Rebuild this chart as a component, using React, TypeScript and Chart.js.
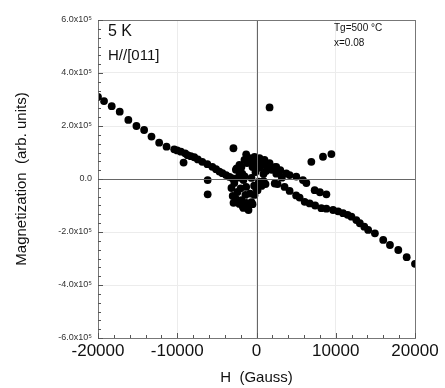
import React, { useEffect, useRef } from "react";
import { Chart, registerables } from "chart.js";

Chart.register(...registerables);

// Field values (Gauss) and magnetization (units of 1e5, arb.)
const upperLeftH = [-20000, -19240, -18270, -17260, -16170, -15150, -14180, -13250, -12280, -11350, -10380, -10000, -9540, -9000, -8700, -8300, -7850, -7400, -6840, -6200, -5570, -5100, -4680, -4300, -3840, -3400, -3000];
const upperLeftM = [3.1, 2.94, 2.75, 2.54, 2.23, 2.0, 1.85, 1.6, 1.37, 1.22, 1.12, 1.08, 1.03, 0.97, 0.9, 0.86, 0.82, 0.74, 0.65, 0.56, 0.46, 0.37, 0.28, 0.22, 0.15, 0.08, 0.02];

const centerH = [-2150, -1520, -890, -250, 380, 1010, 2280, 2910, -2150, -1650, -1300, -630, -130, 380, 880, -2400, -2660, -2150, -1650, -1010, -630, -250, 130, 630, 1140, 2300, -3160, -3000, -1300, -1730, -1100, -40, -2600, 500, 1500,
  -2500, -1900, -1200, -600, 0, 700, 1300, 1900, 2500, -1800, -500, 1200, 3200, -2800, -2000, -1400, -800, -300, 300, -2900, -1900, -1300, -500, 900, 200, -2300, -1500];
const centerM = [0.53, 0.72, 0.79, 0.83, 0.79, 0.72, 0.45, 0.3, 0.15, -0.04, -0.3, 0.04, 0.26, 0.42, 0.19, -0.49, -0.72, -0.94, -1.09, -1.17, -0.87, -0.6, -0.42, -0.26, -0.19, -0.17, -0.34, -0.64, 0.93, -1.04, -1.1, -0.35, 0.35, 0.6, 0.4,
  0.4, 0.45, 0.6, 0.65, 0.6, 0.55, 0.5, 0.35, 0.2, 0.2, 0.45, 0.3, 0.05, -0.15, -0.35, -0.6, -0.55, -0.25, -0.1, -0.9, -0.8, -0.9, -0.95, -0.08, -0.2, 0.05, 0.1];

const upperRightH = [1650, 2490, 3000, 3760, 4180, 5020, 5860, 6290, 7340, 8000, 8820];
const upperRightM = [0.6, 0.46, 0.33, 0.21, 0.15, 0.09, -0.04, -0.15, -0.42, -0.5, -0.58];

const lowerRightH = [2660, 3540, 4180, 5000, 5440, 6080, 6710, 7400, 8180, 8820, 9660, 10300, 10920, 11500, 11980, 12600, 13040, 13600, 14090, 14940, 15990, 16840, 17890, 18950, 20000];
const lowerRightM = [-0.19, -0.3, -0.45, -0.62, -0.7, -0.86, -0.92, -1.0, -1.1, -1.12, -1.17, -1.22, -1.29, -1.35, -1.42, -1.55, -1.67, -1.8, -1.92, -2.05, -2.3, -2.49, -2.68, -2.95, -3.2];

const outlierH = [-9200, -2910, 1650, -6160, -6160, 6920, 8390, 9450];
const outlierM = [0.62, 1.16, 2.7, -0.04, -0.58, 0.65, 0.84, 0.94];

const xTicks = [-20000, -10000, 0, 10000, 20000];
const yTickLabels: Record<string, string> = {
  "6": "6.0x10⁵",
  "4": "4.0x10⁵",
  "2": "2.0x10⁵",
  "0": "0.0",
  "-2": "-2.0x10⁵",
  "-4": "-4.0x10⁵",
  "-6": "-6.0x10⁵",
};
const sampleLabel = ["5 K", "H//[011]"];
const growthLabel = ["Tg=500 °C", "x=0.08"];

const FONT = "'Liberation Sans', Arial, sans-serif";

function toPoints(h: number[], m: number[]) {
  return h.map((x, i) => ({ x, y: m[i] }));
}

const framePlugin = {
  id: "frame",
  afterDraw(chart: any) {
    const { ctx, chartArea } = chart;
    const xs = chart.scales.x;
    const ys = chart.scales.y;
    ctx.save();
    ctx.strokeStyle = "#666";
    ctx.lineWidth = 1;
    const x0 = Math.round(xs.getPixelForValue(0)) + 0.5;
    const y0 = Math.round(ys.getPixelForValue(0)) + 0.5;
    ctx.beginPath();
    ctx.moveTo(x0, chartArea.top);
    ctx.lineTo(x0, chartArea.bottom);
    ctx.moveTo(chartArea.left, y0);
    ctx.lineTo(chartArea.right, y0);
    ctx.stroke();
    ctx.strokeStyle = "#777";
    ctx.strokeRect(
      Math.round(chartArea.left) + 0.5,
      Math.round(chartArea.top) + 0.5,
      Math.round(chartArea.right - chartArea.left),
      Math.round(chartArea.bottom - chartArea.top)
    );
    ctx.strokeStyle = "#555";
    ctx.beginPath();
    for (let v = -20000; v <= 20000; v += 2000) {
      const px = Math.round(xs.getPixelForValue(v)) + 0.5;
      const len = v % 10000 === 0 ? 5 : 3;
      ctx.moveTo(px, chartArea.bottom);
      ctx.lineTo(px, chartArea.bottom - len);
    }
    for (let k = -18; k <= 18; k++) {
      const v = k / 3;
      const py = Math.round(ys.getPixelForValue(v)) + 0.5;
      const len = k % 6 === 0 ? 5 : 3;
      ctx.moveTo(chartArea.left, py);
      ctx.lineTo(chartArea.left + len, py);
    }
    ctx.stroke();
    ctx.fillStyle = "#111";
    ctx.textBaseline = "middle";
    ctx.textAlign = "left";
    ctx.font = `16px ${FONT}`;
    ctx.fillText(sampleLabel[0], chartArea.left + 10, chartArea.top + 12);
    ctx.font = `15px ${FONT}`;
    ctx.fillText(sampleLabel[1], chartArea.left + 10, chartArea.top + 36);
    ctx.font = `10px ${FONT}`;
    ctx.fillText(growthLabel[0], chartArea.left + 236, chartArea.top + 8);
    ctx.fillText(growthLabel[1], chartArea.left + 236, chartArea.top + 23);
    ctx.restore();
  },
};

export default function App() {
  const ref = useRef<HTMLCanvasElement | null>(null);
  useEffect(() => {
    if (!ref.current) return;
    const pointStyle = {
      backgroundColor: "#000",
      borderColor: "#000",
      pointRadius: 3.9,
      pointBorderWidth: 0,
      showLine: false,
    };
    const chart = new Chart(ref.current, {
      type: "scatter",
      data: {
        datasets: [
          { data: toPoints(upperLeftH, upperLeftM), ...pointStyle },
          { data: toPoints(centerH, centerM), ...pointStyle },
          { data: toPoints(upperRightH, upperRightM), ...pointStyle },
          { data: toPoints(lowerRightH, lowerRightM), ...pointStyle },
          { data: toPoints(outlierH, outlierM), ...pointStyle },
        ],
      },
      options: {
        animation: false,
        responsive: false,
        layout: { padding: { left: 0, right: 30, top: 20, bottom: 0 } },
        plugins: { legend: { display: false }, tooltip: { enabled: false } },
        scales: {
          x: {
            type: "linear",
            min: -20000,
            max: 20000,
            afterBuildTicks: (s: any) => {
              s.ticks = xTicks.map((v) => ({ value: v }));
            },
            afterFit: (s: any) => {
              s.height = 50;
            },
            ticks: {
              color: "#111",
              font: { family: FONT, size: 17 },
              padding: 3,
              maxRotation: 0,
              callback: (v: any) => String(v),
            },
            grid: { color: "#ececec", drawTicks: false },
            border: { display: false },
            title: {
              display: true,
              text: "H  (Gauss)",
              color: "#111",
              font: { family: FONT, size: 15 },
              padding: { top: 0, bottom: 1 },
            },
          },
          y: {
            type: "linear",
            min: -6,
            max: 6,
            ticks: {
              stepSize: 2,
              color: "#333",
              font: { family: FONT, size: 9 },
              padding: 6,
              callback: (v: any) => yTickLabels[String(Math.round(Number(v)))] ?? "",
            },
            afterFit: (s: any) => {
              s.width = 98;
            },
            grid: { color: "#ececec", drawTicks: false },
            border: { display: false },
            title: {
              display: true,
              text: "Magnetization  (arb. units)",
              color: "#111",
              font: { family: FONT, size: 15 },
              padding: { top: 13, bottom: 0 },
            },
          },
        },
      },
      plugins: [framePlugin],
    });
    return () => chart.destroy();
  }, []);
  return (
    <div style={{ position: "absolute", left: 0, top: 0, width: 445, height: 388, background: "#fff" }}>
      <canvas ref={ref} width={445} height={388} />
    </div>
  );
}
